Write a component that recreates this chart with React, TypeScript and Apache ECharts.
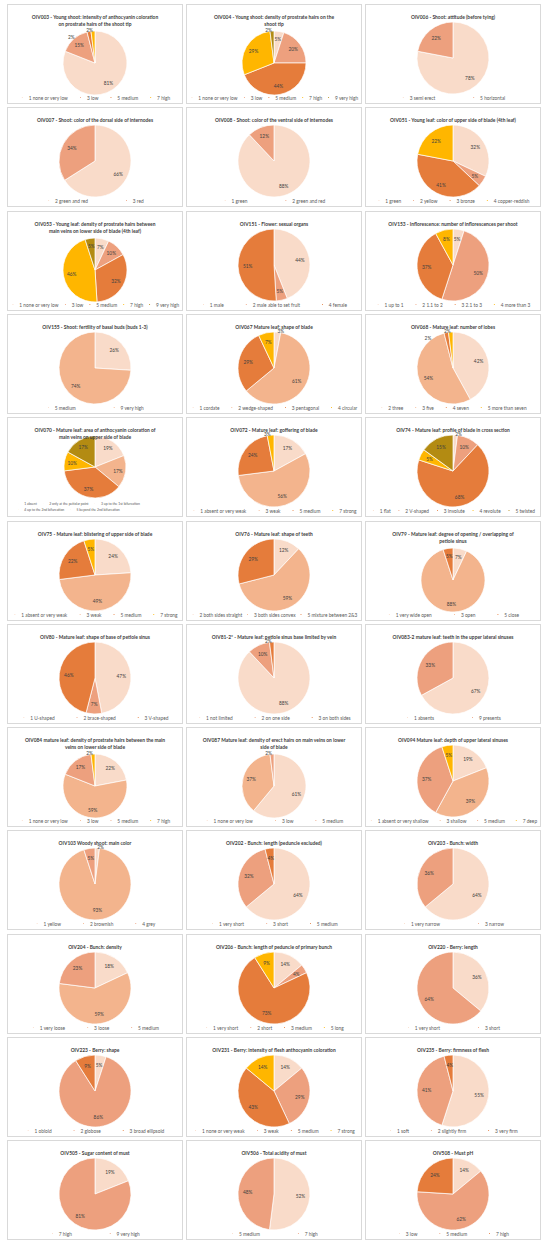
import React, { useEffect, useRef } from "react";
import * as echarts from "echarts";

// ---------- data ----------
const titles: string[] = [
  "OIV003 - Young shoot: intensity of anthocyanin coloration\non prostrate hairs of the shoot tip",
  "OIV004 - Young shoot: density of prostrate hairs on the\nshoot tip",
  "OIV006 - Shoot: attitude (before tying)",
  "OIV007 - Shoot: color of the dorsal side of internodes",
  "OIV008 - Shoot: color of the ventral side of internodes",
  "OIV051 - Young leaf: color of upper side of blade (4th leaf)",
  "OIV053 - Young leaf: density of prostrate hairs between\nmain veins on lower side of blade (4th leaf)",
  "OIV151 - Flower: sexual organs",
  "OIV153 - Inflorescence: number of inflorescences per shoot",
  "OIV155 - Shoot: fertility of basal buds (buds 1-3)",
  "OIV067 Mature leaf: shape of blade",
  "OIV068 - Mature leaf: number of lobes",
  "OIV070 - Mature leaf: area of anthocyanin coloration of\nmain veins on upper side of blade",
  "OIV072 - Mature leaf: goffering of blade",
  "OIV74 - Mature leaf: profile of blade in cross section",
  "OIV75 - Mature leaf: blistering of upper side of blade",
  "OIV76 - Mature leaf: shape of teeth",
  "OIV79 - Mature leaf: degree of opening / overlapping of\npetiole sinus",
  "OIV80 - Mature leaf: shape of base of petiole sinus",
  "OIV81-2* - Mature leaf: petiole sinus base limited by vein",
  "OIV083-2 mature leaf: teeth in the upper lateral sinuses",
  "OIV084 mature leaf: density of prostrate hairs between the main\nveins on lower side of blade",
  "OIV087 Mature leaf: density of erect hairs on main veins on lower\nside of blade",
  "OIV094 Mature leaf: depth of upper lateral sinuses",
  "OIV103 Woody shoot: main color",
  "OIV202 - Bunch: length (peduncle excluded)",
  "OIV203 - Bunch: width",
  "OIV204 - Bunch: density",
  "OIV206 - Bunch: length of peduncle of primary bunch",
  "OIV220 - Berry: length",
  "OIV223 - Berry: shape",
  "OIV231 - Berry: intensity of flesh anthocyanin coloration",
  "OIV235 - Berry: firmness of flesh",
  "OIV505 - Sugar content of must",
  "OIV506 - Total acidity of must",
  "OIV508 - Must pH",
];

const categories: string[][] = [
  ["1 none or very low", "3 low", "5 medium", "7 high"],
  ["1 none or very low", "3 low", "5 medium", "7 high", "9 very high"],
  ["3 semi erect", "5 horizontal"],
  ["2 green and red", "3 red"],
  ["1 green", "2 green and red"],
  ["1 green", "2 yellow", "3 bronze", "4 copper-reddish"],
  ["1 none or very low", "3 low", "5 medium", "7 high", "9 very high"],
  ["1 male", "2 male able to set fruit", "4 female"],
  ["1 up to 1", "2 1.1 to 2", "3 2.1 to 3", "4 more than 3"],
  ["5 medium", "9 very high"],
  ["1 cordate", "2 wedge-shaped", "3 pentagonal", "4 circular"],
  ["2 three", "3 five", "4 seven", "5 more than seven"],
  ["1 absent", "2 only at the petiolar point", "3 up to the 1st bifurcation", "4 up to the 2nd bifurcation", "5 beyond the 2nd bifurcation"],
  ["1 absent or very weak", "3 weak", "5 medium", "7 strong"],
  ["1 flat", "2 V-shaped", "3 involute", "4 revolute", "5 twisted"],
  ["1 absent or very weak", "3 weak", "5 medium", "7 strong"],
  ["2 both sides straight", "3 both sides convex", "5 mixture between 2&3"],
  ["1 very wide open", "3 open", "5 close"],
  ["1 U-shaped", "2 brace-shaped", "3 V-shaped"],
  ["1 not limited", "2 on one side", "3 on both sides"],
  ["1 absents", "9 presents"],
  ["1 none or very low", "3 low", "5 medium", "7 high"],
  ["1 none or very low", "3 low", "5 medium"],
  ["1 absent or very shallow", "3 shallow", "5 medium", "7 deep"],
  ["1 yellow", "2 brownish", "4 grey"],
  ["1 very short", "3 short", "5 medium"],
  ["1 very narrow", "3 narrow"],
  ["1 very loose", "3 loose", "5 medium"],
  ["1 very short", "2 short", "3 medium", "5 long"],
  ["1 very short", "3 short"],
  ["1 obloid", "2 globose", "3 broad ellipsoid"],
  ["1 none or very weak", "3 weak", "5 medium", "7 strong"],
  ["1 soft", "2 slightly firm", "3 very firm"],
  ["7 high", "9 very high"],
  ["5 medium", "7 high"],
  ["3 low", "5 medium", "7 high"],
];

const values: number[][] = [
  [81, 15, 2, 2],
  [5, 20, 44, 29, 2],
  [78, 22],
  [66, 34],
  [88, 12],
  [32, 5, 41, 22],
  [7, 10, 32, 46, 5],
  [44, 5, 51],
  [5, 50, 37, 8],
  [26, 74],
  [3, 61, 29, 7],
  [42, 54, 2, 2],
  [19, 17, 37, 10, 17],
  [17, 56, 24, 3],
  [2, 10, 68, 5, 15],
  [24, 49, 22, 5],
  [12, 59, 29],
  [7, 88, 5],
  [47, 7, 46],
  [88, 10, 2],
  [67, 33],
  [22, 59, 17, 2],
  [61, 37, 2],
  [19, 39, 37, 5],
  [2, 93, 5],
  [64, 32, 4],
  [64, 36],
  [18, 59, 23],
  [14, 4, 73, 9],
  [36, 64],
  [5, 86, 9],
  [14, 29, 43, 14],
  [55, 41, 4],
  [19, 81],
  [52, 48],
  [14, 62, 24],
];

// ---------- styles ----------
const PALETTE: Record<string, string> = {
  VL: "#F9DBC9",
  LS: "#F3B48D",
  S: "#EDA07E",
  O: "#E57C3B",
  G: "#FFB600",
  OL: "#B38B12",
};

const colorKeys: string[][] = [
  ["VL", "S", "O", "G"],
  ["VL", "S", "O", "G", "OL"],
  ["VL", "S"],
  ["VL", "S"],
  ["VL", "S"],
  ["VL", "S", "O", "G"],
  ["VL", "S", "O", "G", "OL"],
  ["VL", "S", "O"],
  ["VL", "S", "O", "G"],
  ["VL", "LS"],
  ["VL", "LS", "O", "G"],
  ["VL", "LS", "O", "G"],
  ["VL", "LS", "O", "G", "OL"],
  ["VL", "LS", "O", "G"],
  ["VL", "S", "O", "G", "OL"],
  ["VL", "LS", "O", "G"],
  ["VL", "LS", "O"],
  ["VL", "LS", "O"],
  ["VL", "S", "O"],
  ["VL", "S", "O"],
  ["VL", "S"],
  ["VL", "LS", "S", "G"],
  ["VL", "LS", "S"],
  ["VL", "LS", "S", "G"],
  ["VL", "LS", "S"],
  ["VL", "S", "O"],
  ["VL", "S"],
  ["VL", "LS", "S"],
  ["VL", "S", "O", "G"],
  ["VL", "S"],
  ["VL", "S", "O"],
  ["VL", "S", "O", "G"],
  ["VL", "S", "O"],
  ["VL", "S"],
  ["VL", "S"],
  ["VL", "S", "O"],
];

const FONT = "Lato, 'Open Sans', sans-serif";
const BOX_W = 176;
const BOX_H = 100;
const COL_X = [7, 186, 365];
const ROW_Y0 = 4;
const ROW_PITCH = 103.3;
const LEGEND_FS = 4.8;
const SPECIAL = 12; // OIV070: two-row tiny legend

function Panel({ idx }: { idx: number }) {
  const ref = useRef<HTMLDivElement>(null);
  useEffect(() => {
    if (!ref.current) return;
    const chart = echarts.init(ref.current, null, { renderer: "svg" });
    const twoLine = titles[idx].includes("\n");
    const cats = categories[idx];
    const vals = values[idx];
    const n = cats.length;
    const special = idx === SPECIAL;

    const chars = cats.reduce((s, c) => s + c.length, 0);
    const desired = n === 2 ? 36 : n === 3 ? 20 : n === 4 ? 10 : 7;
    const estText = chars * LEGEND_FS * 0.48 + n * 7.8;
    const gap = Math.max(3, Math.min(desired, (166 - estText) / Math.max(1, n - 1)));

    const colored = cats.map((name, i) => ({
      name,
      value: vals[i],
      itemStyle: { color: PALETTE[colorKeys[idx][i]] },
    }));
    const labelled = cats.map((name, i) => {
      const v = vals[i];
      const item: any = { name, value: v };
      if (v <= 3) {
        item.label = { position: "outside", distanceToLabelLine: 0 };
        item.labelLine = { show: false, length: 1, length2: 0 };
      }
      return item;
    });

    const legendText = {
      fontSize: special ? 3.4 : LEGEND_FS,
      color: "#595959",
      fontFamily: FONT,
    };
    const legends = special
      ? [
          {
            data: cats.slice(0, 3),
            left: 8,
            bottom: 10,
            icon: "rect",
            itemWidth: 2.2,
            itemHeight: 2.2,
            itemGap: 4,
            padding: 0,
            width: 400,
            selectedMode: false,
            textStyle: { ...legendText, width: 48 },
          },
          {
            data: cats.slice(3),
            left: 8,
            bottom: 4,
            icon: "rect",
            itemWidth: 2.2,
            itemHeight: 2.2,
            itemGap: 4,
            padding: 0,
            width: 400,
            selectedMode: false,
            textStyle: { ...legendText, width: 48 },
          },
        ]
      : [
          {
            data: cats,
            bottom: 3,
            left: "center",
            width: 400,
            icon: "rect",
            itemWidth: 2.8,
            itemHeight: 2.8,
            itemGap: gap,
            padding: 0,
            selectedMode: false,
            textStyle: legendText,
          },
        ];

    let radius = twoLine ? 32 : 36;
    let cy = twoLine ? 58 : 53;
    if (special) {
      radius = 31;
      cy = 49;
    }

    const base = {
      type: "pie",
      center: ["50%", cy],
      startAngle: 90,
      clockwise: true,
      emphasis: { disabled: true },
      animation: false,
    };

    chart.setOption({
      animation: false,
      title: {
        text: titles[idx],
        left: "center",
        top: 4,
        textStyle: {
          fontSize: 4.9,
          fontWeight: "bold",
          color: "#404040",
          lineHeight: 6.4,
          fontFamily: FONT,
        },
      },
      legend: legends,
      series: [
        {
          ...base,
          name: "slices",
          radius,
          data: colored,
          label: { show: false },
          labelLine: { show: false },
          itemStyle: { borderColor: "#ffffff", borderWidth: 0.7 },
        },
        {
          ...base,
          name: "labels",
          silent: true,
          radius: [radius * 0.3, radius],
          data: labelled,
          itemStyle: { color: "rgba(0,0,0,0)", borderWidth: 0 },
          label: {
            show: true,
            position: "inside",
            formatter: "{c}%",
            fontSize: 4.8,
            color: "#404040",
            fontFamily: FONT,
          },
          labelLine: { show: false, length: 1, length2: 0 },
        },
      ],
    });
    return () => chart.dispose();
  }, [idx]);
  const row = Math.floor(idx / 3);
  const col = idx % 3;
  return (
    <div
      style={{
        position: "absolute",
        left: COL_X[col],
        top: ROW_Y0 + row * ROW_PITCH,
        width: BOX_W,
        height: BOX_H,
        border: "1px solid #D9D9D9",
        boxSizing: "border-box",
        background: "#ffffff",
      }}
    >
      <div ref={ref} style={{ width: BOX_W - 2, height: BOX_H - 2 }} />
    </div>
  );
}

export default function App() {
  return (
    <div
      style={{
        position: "absolute",
        left: 0,
        top: 0,
        width: 550,
        height: 1244,
        background: "#ffffff",
        overflow: "hidden",
      }}
    >
      {titles.map((_, i) => (
        <Panel key={i} idx={i} />
      ))}
    </div>
  );
}
